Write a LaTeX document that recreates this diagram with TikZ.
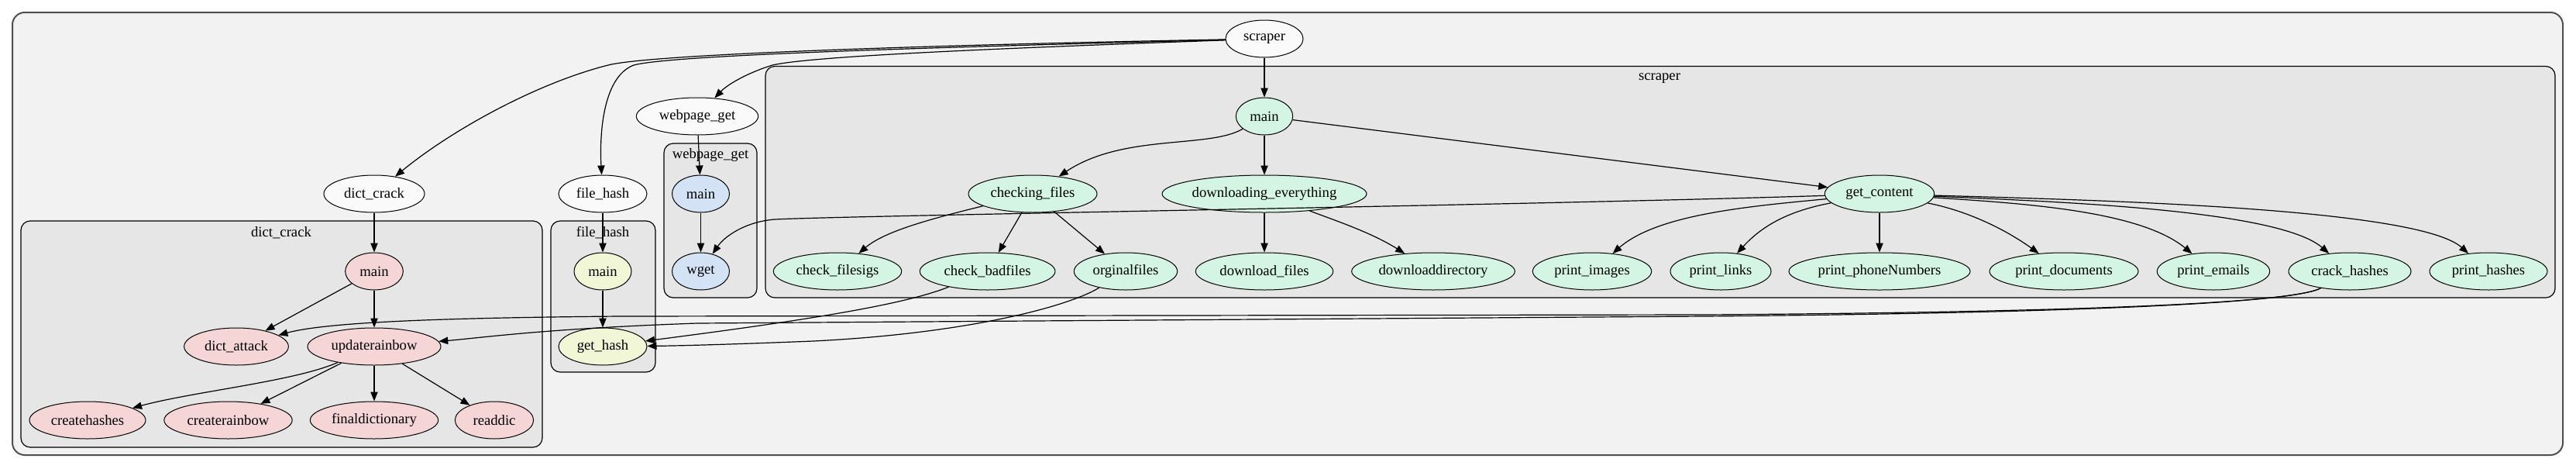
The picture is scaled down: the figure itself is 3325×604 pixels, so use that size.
\documentclass[tikz,border=0pt]{standalone}
\usepackage{fontspec}
\setmainfont{Liberation Serif}
\usetikzlibrary{arrows.meta,shapes.geometric}
\definecolor{outerfill}{HTML}{F2F2F2}
\definecolor{outerdraw}{HTML}{505050}
\definecolor{clfill}{HTML}{E6E6E6}
\definecolor{topfill}{HTML}{FAFAFA}
\definecolor{dcfill}{HTML}{F5D5D5}
\definecolor{fhfill}{HTML}{F0F6D6}
\definecolor{wgfill}{HTML}{D4E2F6}
\definecolor{scfill}{HTML}{D4F5E3}
\begin{document}
\begin{tikzpicture}[x=0.75pt,y=-0.75pt,
  font=\fontsize{14}{16}\selectfont,
  gnode/.style={ellipse,draw=black,line width=0.75pt,inner sep=0pt,minimum height=36pt},
  tnode/.style={gnode,fill=topfill,minimum width=#1},
  dcnode/.style={gnode,fill=dcfill,minimum width=#1},
  fhnode/.style={gnode,fill=fhfill,minimum width=#1},
  wgnode/.style={gnode,fill=wgfill,minimum width=#1},
  scnode/.style={gnode,fill=scfill,minimum width=#1},
  edge/.style={draw=black,line width=0.9pt,-{Triangle[length=9pt,width=7pt]}},
  cluster/.style={draw=black,line width=0.9pt,fill=clfill,rounded corners=9pt},
  cllabel/.style={inner sep=0pt,anchor=center}]
\useasboundingbox (0,0) rectangle (3325,604);
% outer frame
\draw[draw=outerdraw,line width=1.5pt,fill=outerfill,rounded corners=12pt] (16,16) rectangle (3308,587);
% clusters
\draw[cluster] (988,85.5) rectangle (3298,384);
\node[cllabel] (lsc) at (2142,101) {scraper};
\draw[cluster] (857,185) rectangle (977,384);
\node[cllabel] (lwg) at (917,200) {webpage\_get};
\draw[cluster] (711,285) rectangle (846,480);
\node[cllabel] (lfh) at (778,300) {file\_hash};
\draw[cluster] (27,285) rectangle (700,577);
\node[cllabel] (ldc) at (363,300) {dict\_crack};
% top-level nodes
\node[tnode=75pt] (scraper) at (1632,50) {scraper};
\node[tnode=97.5pt] (dict_crack) at (483,250) {dict\_crack};
\node[tnode=85.5pt] (file_hash) at (778,250) {file\_hash};
\node[tnode=118pt] (webpage_get) at (900,150) {webpage\_get};
% dict_crack
\node[dcnode=56pt] (dcmain) at (483,350) {main};
\node[dcnode=101pt] (dict_attack) at (305,447) {dict\_attack};
\node[dcnode=129pt] (updaterainbow) at (483,447) {updaterainbow};
\node[dcnode=112.5pt] (createhashes) at (113,542) {createhashes};
\node[dcnode=124pt] (createrainbow) at (294.5,542) {createrainbow};
\node[dcnode=124pt] (finaldictionary) at (483,542) {finaldictionary};
\node[dcnode=76pt] (readdic) at (638,542) {readdic};
% file_hash
\node[fhnode=55.5pt] (fhmain) at (778,350) {main};
\node[fhnode=85.5pt] (get_hash) at (778,447) {get\_hash};
% webpage_get
\node[wgnode=55.5pt] (wgmain) at (904.5,250) {main};
\node[wgnode=55.5pt] (wget) at (904.5,350) {wget};
% scraper
\node[scnode=55pt] (scmain) at (1632,150) {main};
\node[scnode=124.5pt] (checking_files) at (1333,250) {checking\_files};
\node[scnode=198pt] (downloading_everything) at (1632,250) {downloading\_everything};
\node[scnode=106pt] (get_content) at (2426,250) {get\_content};
\node[scnode=124pt] (check_filesigs) at (1081,350) {check\_filesigs};
\node[scnode=131pt] (check_badfiles) at (1274.6,350) {check\_badfiles};
\node[scnode=100pt] (orginalfiles) at (1453,350) {orginalfiles};
\node[scnode=133pt] (download_files) at (1632,350) {download\_files};
\node[scnode=158pt] (downloaddirectory) at (1850,350) {downloaddirectory};
\node[scnode=115pt] (print_images) at (2055,350) {print\_images};
\node[scnode=97.5pt] (print_links) at (2221,350) {print\_links};
\node[scnode=175.5pt] (print_phoneNumbers) at (2426,350) {print\_phoneNumbers};
\node[scnode=144pt] (print_documents) at (2664,350) {print\_documents};
\node[scnode=109pt] (print_emails) at (2857,350) {print\_emails};
\node[scnode=118.5pt] (crack_hashes) at (3033,350) {crack\_hashes};
\node[scnode=114pt] (print_hashes) at (3212,350) {print\_hashes};
% edges from scraper
\path[edge] (scraper) .. controls (1200,58) and (840,70) .. (785,84) .. controls (690,108) and (580,170) .. (dict_crack);
\path[edge] (scraper) .. controls (1250,60) and (870,70) .. (818,84) .. controls (776,100) and (774,180) .. (file_hash);
\path[edge] (scraper) .. controls (1300,62) and (1050,72) .. (997,84) .. controls (962,95) and (938,110) .. (webpage_get);
\path[edge] (scraper) -- (scmain);
% dict_crack
\path[edge] (dict_crack) -- (dcmain);
\path[edge] (dcmain) -- (dict_attack);
\path[edge] (dcmain) -- (updaterainbow);
\path[edge] (updaterainbow) .. controls (380,492) and (250,505) .. (createhashes);
\path[edge] (updaterainbow) -- (createrainbow);
\path[edge] (updaterainbow) -- (finaldictionary);
\path[edge] (updaterainbow) -- (readdic);
% file_hash
\path[edge] (file_hash) -- (fhmain);
\path[edge] (fhmain) -- (get_hash);
% webpage_get
\path[edge] (webpage_get) -- (wgmain);
\path[edge] (wgmain) -- (wget);
% scraper internals
\path[edge] (scmain) .. controls (1560,192) and (1450,172) .. (checking_files);
\path[edge] (scmain) -- (downloading_everything);
\path[edge] (scmain) -- (get_content);
\path[edge] (checking_files) .. controls (1190,285) and (1140,300) .. (check_filesigs);
\path[edge] (checking_files) -- (check_badfiles);
\path[edge] (checking_files) -- (orginalfiles);
\path[edge] (downloading_everything) -- (download_files);
\path[edge] (downloading_everything) .. controls (1725,285) and (1770,300) .. (downloaddirectory);
\path[edge] (get_content) .. controls (2000,264) and (1100,278) .. (1000,283) .. controls (962,286) and (935,305) .. (wget);
\path[edge] (get_content) .. controls (2260,266) and (2140,276) .. (print_images);
\path[edge] (get_content) .. controls (2320,270) and (2280,285) .. (print_links);
\path[edge] (get_content) -- (print_phoneNumbers);
\path[edge] (get_content) .. controls (2530,270) and (2580,290) .. (print_documents);
\path[edge] (get_content) .. controls (2600,262) and (2760,270) .. (print_emails);
\path[edge] (get_content) .. controls (2650,260) and (2940,270) .. (crack_hashes);
\path[edge] (get_content) .. controls (2700,258) and (3120,268) .. (print_hashes);
% cross-cluster edges
\path[edge] (check_badfiles) .. controls (1170,392) and (1050,412) .. (get_hash);
\path[edge] (orginalfiles) .. controls (1380,395) and (1250,430) .. (1050,440) .. controls (950,444) and (880,446) .. (get_hash);
\path[edge] (crack_hashes) .. controls (2960,392) and (2650,403) .. (2200,406) -- (800,408) .. controls (560,410) and (420,416) .. (dict_attack);
\path[edge] (crack_hashes) .. controls (2960,392) and (2650,404) .. (2200,408) -- (900,417) .. controls (700,424) and (620,436) .. (updaterainbow);
\end{tikzpicture}
\end{document}
